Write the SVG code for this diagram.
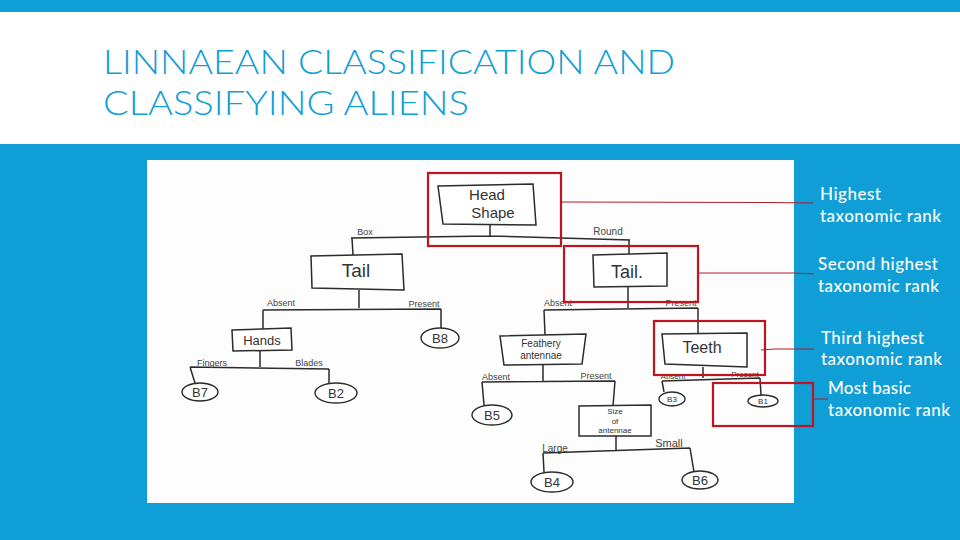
<svg xmlns="http://www.w3.org/2000/svg" width="960" height="540" viewBox="0 0 960 540">
<defs>
<style>
.hand{fill:#fff;stroke:#2b2b2b;stroke-width:1.5}
.leaf{fill:#fff;stroke:#2b2b2b;stroke-width:1.4}
.wire{fill:none;stroke:#2b2b2b;stroke-width:1.5}
.box{fill:none;stroke:#c0141e;stroke-width:2.2}
.lead{fill:none;stroke:#b41a28;stroke-width:1}
text{font-family:"Liberation Sans",Arial,sans-serif}
.t{fill:#333;font-size:15px;text-anchor:middle}
.s{fill:#333;font-size:8px;text-anchor:middle}
.l{fill:#444;font-size:9px;text-anchor:middle}
.r{fill:#fff;font-family:"Lato","Liberation Sans",sans-serif;font-size:17px;font-weight:500}
.title{fill:#0f9ed5;font-family:"Lato","Liberation Sans",sans-serif;font-size:34px;font-weight:300}
</style>
</defs>
<rect width="960" height="540" fill="#0f9ed5"/>
<rect y="12" width="960" height="132" fill="#fff"/>
<text class="title" x="103" y="74" textLength="572" lengthAdjust="spacingAndGlyphs">LINNAEAN CLASSIFICATION AND</text>
<text class="title" x="103" y="115" textLength="366" lengthAdjust="spacingAndGlyphs">CLASSIFYING ALIENS</text>
<rect x="147" y="160" width="647" height="343" fill="#fdfdfd"/>
<g id="connectors">
<path class="wire" d="M490 225V237M351 238L490 236L630 240M352 238L353 255M629 240V254"/>
<path class="wire" d="M359 290V308M263 310L441 309M263 310V329M441 309V329"/>
<path class="wire" d="M260 351V367M190 367L329 369M190 367L195 383M329 369V383"/>
<path class="wire" d="M628 287V308M544 310L698 308M544 310L545 335M698 308V334"/>
<path class="wire" d="M543 364V382M482 382L615 381M482 382L484 405M615 381L613 406"/>
<path class="wire" d="M616 436V451M543 453L690 448M543 453L544 472M690 448L694 472"/>
<path class="wire" d="M703 367V378M662 381L760 378M662 381L664 392M760 378L761 395"/>
</g>
<g id="node-head-shape">
<path class="hand" d="M438 186L533 184L536 225L443 224Z"/>
<text class="t" x="487" y="200">Head</text>
<text class="t" x="493" y="218">Shape</text>
</g>
<g id="node-tail-left">
<path class="hand" d="M311 256L402 254L404 290L312 288Z"/>
<text class="t" x="356" y="277" style="font-size:19px">Tail</text>
</g>
<g id="node-hands">
<path class="hand" d="M232 330L291 328L292 350L233 351Z"/>
<text class="t" x="262" y="345" style="font-size:13px">Hands</text>
</g>
<g id="node-b8"><ellipse class="leaf" cx="440" cy="338" rx="19" ry="10"/><text class="t" x="440" y="343" style="font-size:13px">B8</text></g>
<g id="node-b7"><ellipse class="leaf" cx="200" cy="392" rx="18" ry="9"/><text class="t" x="200" y="397" style="font-size:13px">B7</text></g>
<g id="node-b2"><ellipse class="leaf" cx="336" cy="393" rx="21" ry="10"/><text class="t" x="336" y="398" style="font-size:13px">B2</text></g>
<g id="node-tail-right">
<path class="hand" d="M593 255L667 253L667 286L594 287Z"/>
<text class="t" x="627" y="278" style="font-size:18px">Tail.</text>
</g>
<g id="node-feathery">
<path class="hand" d="M500 336L586 334L582 364L504 365Z"/>
<text class="t" x="541" y="347" style="font-size:10px">Feathery</text>
<text class="t" x="541" y="359" style="font-size:10px">antennae</text>
</g>
<g id="node-teeth">
<path class="hand" d="M662 334L747 333L747 367L665 364Z"/>
<text class="t" x="702" y="353" style="font-size:16px">Teeth</text>
</g>
<g id="node-size">
<path class="hand" d="M579 406L651 405L651 436L579 436Z"/>
<text class="s" x="615" y="414">Size</text>
<text class="s" x="615" y="423.500">of</text>
<text class="s" x="615" y="433">antennae</text>
</g>
<g id="node-b5"><ellipse class="leaf" cx="492" cy="415" rx="20" ry="10"/><text class="t" x="492" y="420" style="font-size:13px">B5</text></g>
<g id="node-b3"><ellipse class="leaf" cx="672" cy="399" rx="13" ry="7"/><text class="s" x="672" y="402">B3</text></g>
<g id="node-b1"><ellipse class="leaf" cx="763" cy="401" rx="15" ry="6"/><text class="s" x="763" y="404">B1</text></g>
<g id="node-b4"><ellipse class="leaf" cx="552" cy="482" rx="21" ry="10"/><text class="t" x="552" y="487" style="font-size:13px">B4</text></g>
<g id="node-b6"><ellipse class="leaf" cx="700" cy="480" rx="18" ry="9"/><text class="t" x="700" y="485" style="font-size:13px">B6</text></g>
<g id="branch-labels">
<text class="l" x="365" y="235">Box</text>
<text class="l" x="608" y="235" style="font-size:10px">Round</text>
<text class="l" x="281" y="306">Absent</text>
<text class="l" x="424" y="307">Present</text>
<text class="l" x="212" y="366">Fingers</text>
<text class="l" x="309" y="366">Blades</text>
<text class="l" x="558" y="306">Absent</text>
<text class="l" x="681" y="306">Present</text>
<text class="l" x="496" y="380">Absent</text>
<text class="l" x="596" y="379">Present</text>
<text class="l" x="673" y="379" style="font-size:8px">Absent</text>
<text class="l" x="745" y="377" style="font-size:8px">Present</text>
<text class="l" x="555" y="452" style="font-size:10px">Large</text>
<text class="l" x="669" y="447" style="font-size:11px">Small</text>
</g>
<g id="highlight-boxes">
<rect class="box" x="428" y="173" width="133" height="73"/>
<rect class="box" x="564" y="246" width="134" height="56"/>
<rect class="box" x="654" y="321" width="111" height="54"/>
<rect class="box" x="713" y="383" width="100" height="43"/>
</g>
<g id="leader-lines">
<path class="lead" d="M561 202L768 202.500L813 203"/>
<path class="lead" d="M698 273L795 273L814 274"/>
<path class="lead" d="M761 350L775 349L814 349"/>
<path class="lead" d="M813 399H828"/>
</g>
<g id="rank-labels">
<text class="r" x="820" y="200" textLength="61">Highest</text>
<text class="r" x="820" y="222" textLength="121">taxonomic rank</text>
<text class="r" x="818" y="270" textLength="120">Second highest</text>
<text class="r" x="818" y="292" textLength="121">taxonomic rank</text>
<text class="r" x="821" y="344" textLength="103">Third highest</text>
<text class="r" x="821" y="365" textLength="121">taxonomic rank</text>
<text class="r" x="828" y="394" textLength="83">Most basic</text>
<text class="r" x="828" y="416" textLength="122">taxonomic rank</text>
</g>
</svg>
